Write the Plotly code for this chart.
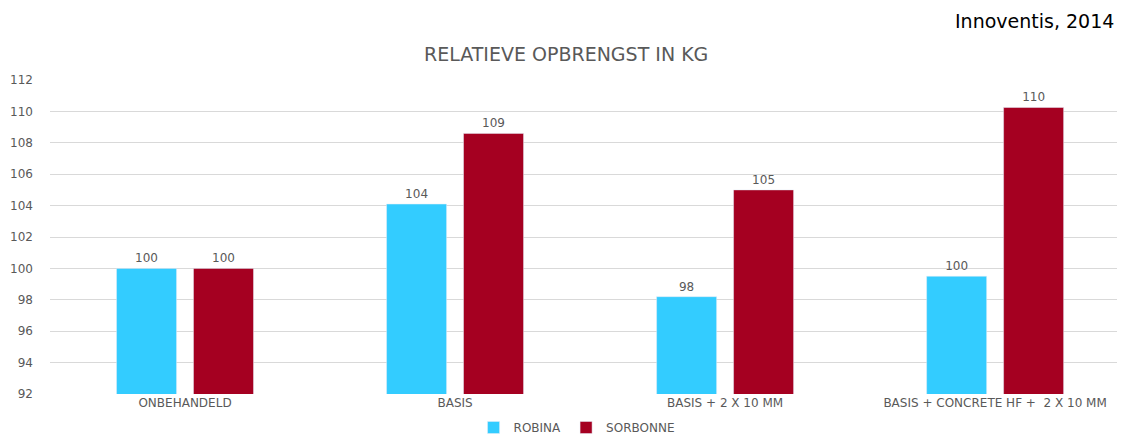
import plotly.graph_objects as go

categories = ["ONBEHANDELD", "BASIS", "BASIS + 2 X 10 MM", "BASIS + CONCRETE HF +  2 X 10 MM"]
robina = [100.0, 104.1, 98.2, 99.5]
sorbonne = [100.0, 108.6, 105.0, 110.25]
robina_labels = ["100", "104", "98", "100"]
sorbonne_labels = ["100", "109", "105", "110"]
y_ticks = [92, 94, 96, 98, 100, 102, 104, 106, 108, 110, 112]

FONT = "DejaVu Sans, Open Sans, sans-serif"
GREY = "#595959"

fig = go.Figure()
fig.add_trace(go.Bar(name="ROBINA", x=categories, y=robina, marker_color="#33CCFF",
                     text=robina_labels, textposition="outside",
                     textfont=dict(family=FONT, size=12, color=GREY)))
fig.add_trace(go.Bar(name="SORBONNE", x=categories, y=sorbonne, marker_color="#A50021",
                     text=sorbonne_labels, textposition="outside",
                     textfont=dict(family=FONT, size=12, color=GREY)))

# page body has an 8px margin: figure is sized/positioned to compensate
fig.update_layout(
    width=1117, height=434,
    margin=dict(l=42, r=0, t=72, b=48, autoexpand=False),
    paper_bgcolor="white", plot_bgcolor="white",
    barmode="group", bargap=0.43, bargroupgap=0.22,
    showlegend=True,
    legend=dict(orientation="h", xref="container", x=0.509, xanchor="center",
                yref="container", y=0.0, yanchor="bottom",
                font=dict(family=FONT, size=12, color=GREY),
                itemwidth=30, traceorder="normal"),
    font=dict(family=FONT),
)
fig.update_xaxes(range=[-0.5, 3.481], showgrid=False, showline=False, ticks="",
                 tickfont=dict(family=FONT, size=12, color=GREY))
fig.update_yaxes(range=[92, 112], tickvals=y_ticks, showgrid=True, gridcolor="#d9d9d9", gridwidth=1,
                 zeroline=False, showline=False, ticks="", ticklabelstandoff=16,
                 tickfont=dict(family=FONT, size=12, color=GREY))

fig.add_annotation(text="RELATIEVE OPBRENGST IN KG", xref="paper", yref="paper",
                   x=(566 - 50) / 1075, y=(394 - 54) / 314, xanchor="center", yanchor="middle",
                   showarrow=False, font=dict(family=FONT, size=19, color=GREY))
fig.add_annotation(text="Innoventis, 2014", xref="paper", yref="paper",
                   x=(1116 - 50) / 1075, xanchor="right", y=(394 - 21) / 314, yanchor="middle",
                   showarrow=False, font=dict(family=FONT, size=19, color="black"))

fig.write_html("out.html")
